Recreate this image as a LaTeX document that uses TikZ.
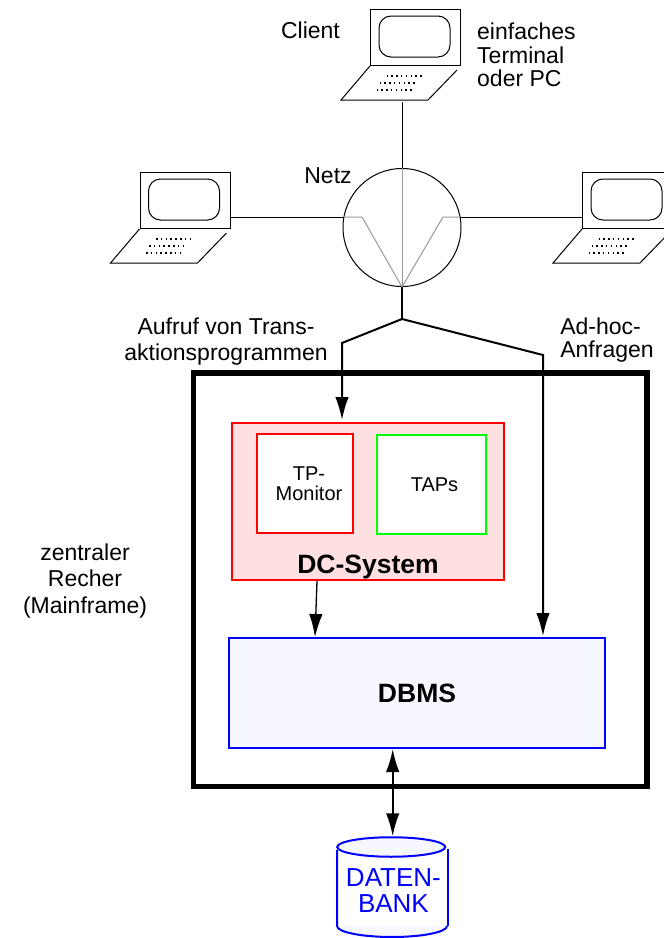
\documentclass[tikz,border=0pt]{standalone}
\usepackage{fontspec}
\setmainfont{Liberation Sans}
\usetikzlibrary{positioning, calc, shapes.geometric, arrows.meta}

\tikzset{
thin line/.style={line width=1pt},
thick line/.style={line width=2pt},
big tip/.style={-{Latex[length=23pt,width=13.5pt]}},
both tip/.style={{Latex[length=23pt,width=13.5pt]}-{Latex[length=23pt,width=13.5pt]}},
gray line/.style={line width=1pt,draw=gray!80},
box/.style={rectangle,line width=2pt,inner sep=0pt},
label big/.style={inner sep=0pt,align=left,font=\fontsize{23}{23.5}\selectfont},
label small/.style={inner sep=0pt,align=center,font=\fontsize{20}{20}\selectfont},
label bold/.style={inner sep=0pt,font=\fontsize{26.5}{27}\selectfont\bfseries}
}

% one terminal, #2 #3 = top left corner of its screen
\newcommand{\laptop}[3]{
\node[rectangle,thin line,draw=black,inner sep=0pt,anchor=north west,
minimum width =90pt ,
minimum height =56pt] (#1) at(#2,#3){};
\draw[thin line,rounded corners=12pt] ($(#1.north west)+(9,7)$) rectangle ($(#1.north west)+(80,48)$);
\draw[thin line] ($(#1.south west)+(0,0)$) -- ($(#1.south west)+(-29,34)$) -- ($(#1.south west)+(58,34)$) -- ($(#1.south west)+(87,4)$);
\draw[line width=1.3pt,dash pattern=on 1.5pt off 3.3pt] ($(#1.north west)+(16.5,67)$) -- ++(38,0);
\draw[line width=1.3pt,dash pattern=on 1.5pt off 3.3pt] ($(#1.north west)+(9.5,74)$) -- ++(38,0);
\draw[line width=1.3pt,dash pattern=on 1.5pt off 3.3pt] ($(#1.north west)+(6.5,81)$) -- ++(38,0);
\coordinate (#1base) at ($(#1.north west)+(32,93)$);
}

\begin{document}
\begin{tikzpicture}[x=1pt,y=-1pt]
\clip (0,0) rectangle (664,938);

\laptop{client}{370}{9}
\laptop{left}{139.5}{172}
\laptop{right}{582}{172}

% net circle with its inner wires
\node[circle,thin line,draw=black,inner sep=0pt,
minimum width =118pt ,
minimum height =118pt] (netz) at(402,227.5){};
\coordinate (netzl) at (344,217);
\coordinate (netzr) at (460,217);
\draw[gray line] (netz.north) -- (netz.south);
\draw[gray line] (netzl) -- ++(18,0) -- (netz.south);
\draw[gray line] (netzr) -- ++(-17,0) -- (netz.south);
\draw[thin line] (clientbase) -- (netz.north);
\draw[thin line] (left.east |- netzl) -- (netzl);
\draw[thin line] (netzr) -- (right.west |- netzr);

% outer frame
\node[rectangle,line width=5.5pt,draw=black,inner sep=0pt,anchor=north west,
minimum width =453.7pt ,
minimum height =413.3pt] (rechner) at(190.7,370.2){};

% boxes inside
\node[box,draw=red,fill=red!12,anchor=north west,
minimum width =272pt ,
minimum height =157pt] (dc) at(231,422){};
\node[box,draw=red,fill=white,anchor=north west,
minimum width =96pt ,
minimum height =99pt] (tp) at(256,433){};
\node[box,draw=green,fill=white,anchor=north west,
minimum width =109pt ,
minimum height =99pt] (taps) at(376,434){};
\node[box,draw=blue,fill=blue!3,anchor=north west,
minimum width =376pt ,
minimum height =110pt] (dbms) at(228,637){};

\node[label small] (tptext) at(309,484){TP-\\Monitor};
\node[label small] (tapstext) at(434.5,484.5){TAPs};
\node[label bold] (dctext) at(368,566.5){DC-System};
\node[label bold] (dbmstext) at(417,693){DBMS};

% data base
\fill[blue!3] (337,926) arc[start angle=180,end angle=360,x radius=55pt,y radius=11pt] -- cycle;
\draw[line width=2pt,draw=blue] (337,850) -- (337,926) arc[start angle=180,end angle=360,x radius=55pt,y radius=11pt];
\draw[line width=2pt,draw=blue] (448,849) -- (448,926);
\node[ellipse,line width=2pt,draw=blue,fill=blue!3,inner sep=0pt,
minimum width =108pt ,
minimum height =19.5pt] (dbtop) at(391.2,847){};
\node[inner sep=0pt,align=center,text=blue,font=\fontsize{26}{26}\selectfont] (dbtext) at(393.4,891){DATEN-\\BANK};

% connections
\coordinate (fork) at (402,319);
\coordinate (knickl) at (342,343);
\coordinate (knickr) at (543,355);
\coordinate (dcin) at (342,420);
\coordinate (dbmsin) at (543,636);
\coordinate (dcout) at (317,581);
\coordinate (dbin) at (315,637);
\draw[thick line] (netz.south) -- (fork);
\draw[thick line,big tip] (fork) -- (knickl) -- (dcin);
\draw[thick line,big tip] (fork) -- (knickr) -- (dbmsin);
\draw[line width=1.3pt,big tip] (dcout) -- (dbin);
\draw[thick line,both tip] ([xshift=1.5pt]dbtop.north |- dbms.south) -- ([xshift=1.5pt]dbtop.north);

% texts
\node[label big] (clienttext) at(310.5,30){Client};
\node[label big,anchor=west] (terminaltext) at(477,55){einfaches\\Terminal\\oder PC};
\node[label big] (netztext) at(328,176){Netz};
\node[inner sep=0pt,align=center,font=\fontsize{23}{26.5}\selectfont] (aufruftext) at(226,341.5){Aufruf von Trans-\\aktionsprogrammen};
\node[label big] (adhoctext) at(607,340){Ad-hoc-\\Anfragen};
\node[inner sep=0pt,align=center,font=\fontsize{23}{26.5}\selectfont] (zentraltext) at(85,581){zentraler\\Recher\\(Mainframe)};
\end{tikzpicture}
\end{document}
